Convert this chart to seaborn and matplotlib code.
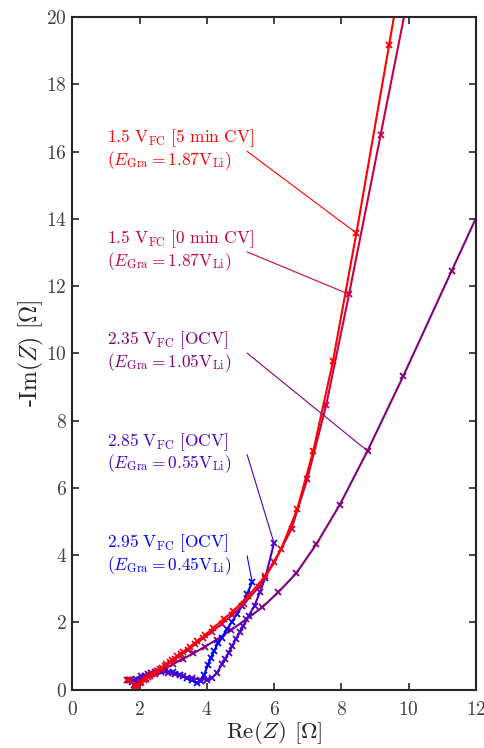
import numpy as np
import pandas as pd
import matplotlib
matplotlib.use("Agg")
import matplotlib.pyplot as plt
import seaborn as sns

sns.set_theme(style="ticks")
plt.rcParams['font.family'] = ['cmr10', 'DejaVu Serif']
plt.rcParams['mathtext.fontset'] = 'cm'
plt.rcParams['axes.formatter.use_mathtext'] = True

# ---- data (Re(Z), -Im(Z)) in Ohm ----
re_5min = [1.65, 1.88, 2.00, 2.12, 2.25, 2.38, 2.52, 2.66, 2.80, 2.96, 3.12, 3.30, 3.50, 3.72,
           3.95, 4.20, 4.50, 4.79, 5.24, 5.74, 6.21, 6.69, 7.17, 7.75, 8.45, 9.42, 10.60]
im_5min = [0.30, 0.12, 0.20, 0.28, 0.37, 0.46, 0.55, 0.65, 0.76, 0.87, 0.99, 1.12, 1.27, 1.44,
           1.62, 1.84, 2.10, 2.34, 2.79, 3.38, 4.18, 5.37, 7.11, 9.76, 13.58, 19.16, 26.00]

re_0min = [1.70, 1.92, 2.05, 2.18, 2.32, 2.46, 2.60, 2.75, 2.90, 3.06, 3.24, 3.44, 3.66, 3.90,
           4.15, 4.45, 4.75, 5.10, 5.55, 6.01, 6.52, 6.99, 7.55, 8.23, 9.17, 10.30]
im_0min = [0.28, 0.12, 0.22, 0.31, 0.41, 0.50, 0.60, 0.70, 0.81, 0.92, 1.05, 1.19, 1.35, 1.53,
           1.72, 1.96, 2.22, 2.55, 3.05, 3.79, 4.78, 6.27, 8.46, 11.76, 16.50, 22.20]

re_235 = [1.63, 1.85, 2.00, 2.20, 2.45, 2.70, 3.00, 3.30, 3.60, 3.95, 4.30, 4.72, 5.17, 5.65,
          6.13, 6.66, 7.26, 7.95, 8.78, 9.85, 11.28, 13.10]
im_235 = [0.30, 0.15, 0.22, 0.33, 0.47, 0.60, 0.76, 0.92, 1.08, 1.28, 1.49, 1.77, 2.09, 2.45,
          2.90, 3.46, 4.33, 5.49, 7.10, 9.34, 12.45, 16.40]

re_285 = [1.72, 1.90, 2.05, 2.25, 2.45, 2.65, 2.85, 3.05, 3.30, 3.55, 3.80, 4.00, 4.15, 4.30,
          4.45, 4.55, 4.65, 4.76, 4.87, 4.98, 5.09, 5.25, 5.42, 5.58, 5.74, 6.00]
im_285 = [0.28, 0.32, 0.40, 0.48, 0.52, 0.53, 0.50, 0.46, 0.40, 0.34, 0.30, 0.30, 0.35, 0.50,
          0.75, 0.92, 1.10, 1.30, 1.52, 1.70, 1.90, 2.20, 2.50, 2.90, 3.33, 4.36]

re_295 = [1.78, 1.97, 2.15, 2.35, 2.55, 2.75, 3.00, 3.20, 3.40, 3.55, 3.70, 3.82, 3.92, 4.03,
          4.12, 4.22, 4.33, 4.45, 4.60, 4.75, 4.90, 5.05, 5.20, 5.35]
im_295 = [0.22, 0.30, 0.40, 0.50, 0.55, 0.56, 0.53, 0.45, 0.36, 0.28, 0.20, 0.25, 0.45, 0.72,
          0.95, 1.15, 1.38, 1.55, 1.80, 2.02, 2.25, 2.50, 2.85, 3.20]

labels_top = [r'$\mathrm{1.5\ V_{FC}\ [5\ min\ CV]}$',
              r'$\mathrm{1.5\ V_{FC}\ [0\ min\ CV]}$',
              r'$\mathrm{2.35\ V_{FC}\ [OCV]}$',
              r'$\mathrm{2.85\ V_{FC}\ [OCV]}$',
              r'$\mathrm{2.95\ V_{FC}\ [OCV]}$']
labels_bot = [r'$(E_{\mathrm{Gra}} = 1.87\mathrm{V}_{\mathrm{Li}})$',
              r'$(E_{\mathrm{Gra}} = 1.87\mathrm{V}_{\mathrm{Li}})$',
              r'$(E_{\mathrm{Gra}} = 1.05\mathrm{V}_{\mathrm{Li}})$',
              r'$(E_{\mathrm{Gra}} = 0.55\mathrm{V}_{\mathrm{Li}})$',
              r'$(E_{\mathrm{Gra}} = 0.45\mathrm{V}_{\mathrm{Li}})$']
colors = ['#ff0000', '#c8004b', '#800080', '#4b00c8', '#0000ff']
xticks = [0, 2, 4, 6, 8, 10, 12]
yticks = [0, 2, 4, 6, 8, 10, 12, 14, 16, 18, 20]

series = [(re_5min, im_5min), (re_0min, im_0min), (re_235, im_235),
          (re_285, im_285), (re_295, im_295)]
# marker index each label points to
point_idx = [24, 23, 18, 25, 23]
label_y = [16.39, 13.40, 10.39, 7.37, 4.36]

fig = plt.figure(figsize=(4.85, 7.48), dpi=100)
ax = fig.add_axes([0.149, 0.078, 0.832, 0.899])

draw_order = [2, 4, 3, 1, 0]
for i in draw_order:
    x, y = series[i]
    df = pd.DataFrame({'re': x, 'im': y})
    sns.lineplot(data=df, x='re', y='im', sort=False, estimator=None, ax=ax,
                 color=colors[i], lw=1.5, marker='x', markersize=5,
                 markeredgewidth=1.3, markeredgecolor=colors[i])

for i in range(5):
    x, y = series[i]
    px, py = x[point_idx[i]], y[point_idx[i]]
    ax.text(1.03, label_y[i], labels_top[i], color=colors[i], fontsize=12.5,
            ha='left', va='center')
    ax.text(1.03, label_y[i] - 0.66, labels_bot[i], color=colors[i], fontsize=12.5,
            ha='left', va='center')
    ax.annotate('', xy=(px, py), xytext=(5.2, label_y[i] - 0.38),
                arrowprops=dict(arrowstyle='-', color=colors[i], lw=0.8,
                                shrinkA=0, shrinkB=0))

ax.set_xlim(0, 12)
ax.set_ylim(0, 20)
ax.set_xticks(xticks)
ax.set_yticks(yticks)
ax.tick_params(direction='in', top=True, right=True, length=5, width=1.2,
               labelsize=14, colors='#262626', labelcolor='#404040', pad=4)
ax.tick_params(axis='x', pad=8)
ax.set_xlabel(r'Re($Z$) [$\Omega$]', fontsize=16.5, color='#262626', labelpad=0)
ax.set_ylabel(r'-Im($Z$) [$\Omega$]', fontsize=17, color='#262626', labelpad=0)
for s in ax.spines.values():
    s.set_color('#262626')
    s.set_linewidth(1.5)
    s.set_visible(True)

fig.savefig('out.png', dpi=100)
